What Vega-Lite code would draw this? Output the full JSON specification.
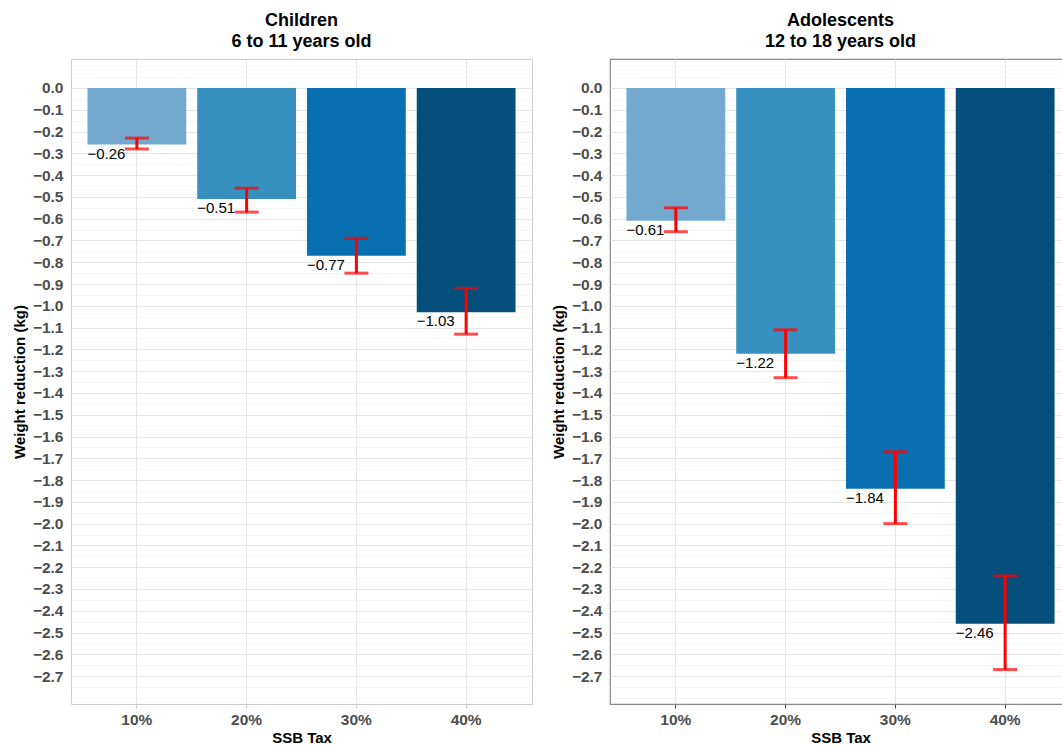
{
  "$schema": "https://vega.github.io/schema/vega-lite/v6.json",
  "padding": {"left": 11, "top": 11, "right": 0, "bottom": 0},
  "background": "white",
  "datasets": {
    "tax": [
      {"group": "Children", "tax": "10%", "value": -0.26, "lo": -0.28, "hi": -0.23},
      {"group": "Children", "tax": "20%", "value": -0.51, "lo": -0.57, "hi": -0.46},
      {"group": "Children", "tax": "30%", "value": -0.77, "lo": -0.85, "hi": -0.69},
      {"group": "Children", "tax": "40%", "value": -1.03, "lo": -1.13, "hi": -0.92},
      {"group": "Adolescents", "tax": "10%", "value": -0.61, "lo": -0.66, "hi": -0.55},
      {"group": "Adolescents", "tax": "20%", "value": -1.22, "lo": -1.33, "hi": -1.11},
      {"group": "Adolescents", "tax": "30%", "value": -1.84, "lo": -2.0, "hi": -1.67},
      {"group": "Adolescents", "tax": "40%", "value": -2.46, "lo": -2.67, "hi": -2.24}
    ]
  },
  "spacing": 17,
  "hconcat": [
    {
      "width": 461,
      "height": 645,
      "title": {"text": ["Children", "6 to 11 years old"]},
      "view": {"stroke": "#CCCCCC", "strokeWidth": 1},
      "data": {"name": "tax"},
      "transform": [{"filter": "datum.group == 'Children'"}],
      "encoding": {
        "x": {
          "field": "tax", "type": "nominal", "sort": ["10%", "20%", "30%", "40%"],
          "scale": {"paddingInner": 0.1, "paddingOuter": 0.15},
          "axis": {"title": "SSB Tax", "labelAngle": 0, "bandPosition": 0.5, "tickColor": "#CCCCCC", "gridColor": "#E5E5E5"}
        }
      },
      "layer": [
        {
          "mark": {"type": "bar"},
          "encoding": {
            "y": {
              "field": "value", "type": "quantitative",
              "scale": {"domain": [-2.828, 0.133], "nice": false, "zero": false},
              "axis": {"title": "Weight reduction (kg)", "tickColor": "#CCCCCC", "values": [0.1,0.05,0,-0.05,-0.1,-0.15,-0.2,-0.25,-0.3,-0.35,-0.4,-0.45,-0.5,-0.55,-0.6,-0.65,-0.7,-0.75,-0.8,-0.85,-0.9,-0.95,-1,-1.05,-1.1,-1.15,-1.2,-1.25,-1.3,-1.35,-1.4,-1.45,-1.5,-1.55,-1.6,-1.65,-1.7,-1.75,-1.8,-1.85,-1.9,-1.95,-2,-2.05,-2.1,-2.15,-2.2,-2.25,-2.3,-2.35,-2.4,-2.45,-2.5,-2.55,-2.6,-2.65,-2.7,-2.75,-2.8]}
            },
            "color": {"field": "tax", "type": "nominal", "legend": null,
              "scale": {"domain": ["10%", "20%", "30%", "40%"], "range": ["#74A9CF", "#3690C0", "#0870B0", "#054F7C"]}}
          }
        },
        {
          "mark": {"type": "text", "align": "left", "baseline": "top", "dy": 2, "fontSize": 15, "color": "black"},
          "encoding": {
            "x": {"field": "tax", "type": "nominal", "sort": ["10%", "20%", "30%", "40%"], "bandPosition": 0},
            "y": {"field": "value", "type": "quantitative", "axis": {"title": "Weight reduction (kg)", "tickColor": "#CCCCCC", "values": [0.1,0.05,0,-0.05,-0.1,-0.15,-0.2,-0.25,-0.3,-0.35,-0.4,-0.45,-0.5,-0.55,-0.6,-0.65,-0.7,-0.75,-0.8,-0.85,-0.9,-0.95,-1,-1.05,-1.1,-1.15,-1.2,-1.25,-1.3,-1.35,-1.4,-1.45,-1.5,-1.55,-1.6,-1.65,-1.7,-1.75,-1.8,-1.85,-1.9,-1.95,-2,-2.05,-2.1,-2.15,-2.2,-2.25,-2.3,-2.35,-2.4,-2.45,-2.5,-2.55,-2.6,-2.65,-2.7,-2.75,-2.8]}},
            "text": {"field": "value", "type": "quantitative", "format": ".2f"}
          }
        },
        {
          "mark": {"type": "rule", "color": "#FF0000", "strokeWidth": 3},
          "encoding": {
            "y": {"field": "lo", "type": "quantitative", "axis": {"title": "Weight reduction (kg)", "tickColor": "#CCCCCC", "values": [0.1,0.05,0,-0.05,-0.1,-0.15,-0.2,-0.25,-0.3,-0.35,-0.4,-0.45,-0.5,-0.55,-0.6,-0.65,-0.7,-0.75,-0.8,-0.85,-0.9,-0.95,-1,-1.05,-1.1,-1.15,-1.2,-1.25,-1.3,-1.35,-1.4,-1.45,-1.5,-1.55,-1.6,-1.65,-1.7,-1.75,-1.8,-1.85,-1.9,-1.95,-2,-2.05,-2.1,-2.15,-2.2,-2.25,-2.3,-2.35,-2.4,-2.45,-2.5,-2.55,-2.6,-2.65,-2.7,-2.75,-2.8]}},
            "y2": {"field": "hi"}
          }
        },
        {
          "mark": {"type": "tick", "color": "#FF0000", "thickness": 3, "size": 24, "orient": "horizontal"},
          "encoding": {"y": {"field": "lo", "type": "quantitative", "axis": {"title": "Weight reduction (kg)", "tickColor": "#CCCCCC", "values": [0.1,0.05,0,-0.05,-0.1,-0.15,-0.2,-0.25,-0.3,-0.35,-0.4,-0.45,-0.5,-0.55,-0.6,-0.65,-0.7,-0.75,-0.8,-0.85,-0.9,-0.95,-1,-1.05,-1.1,-1.15,-1.2,-1.25,-1.3,-1.35,-1.4,-1.45,-1.5,-1.55,-1.6,-1.65,-1.7,-1.75,-1.8,-1.85,-1.9,-1.95,-2,-2.05,-2.1,-2.15,-2.2,-2.25,-2.3,-2.35,-2.4,-2.45,-2.5,-2.55,-2.6,-2.65,-2.7,-2.75,-2.8]}}}
        },
        {
          "mark": {"type": "tick", "color": "#FF0000", "thickness": 3, "size": 24, "orient": "horizontal"},
          "encoding": {"y": {"field": "hi", "type": "quantitative", "axis": {"title": "Weight reduction (kg)", "tickColor": "#CCCCCC", "values": [0.1,0.05,0,-0.05,-0.1,-0.15,-0.2,-0.25,-0.3,-0.35,-0.4,-0.45,-0.5,-0.55,-0.6,-0.65,-0.7,-0.75,-0.8,-0.85,-0.9,-0.95,-1,-1.05,-1.1,-1.15,-1.2,-1.25,-1.3,-1.35,-1.4,-1.45,-1.5,-1.55,-1.6,-1.65,-1.7,-1.75,-1.8,-1.85,-1.9,-1.95,-2,-2.05,-2.1,-2.15,-2.2,-2.25,-2.3,-2.35,-2.4,-2.45,-2.5,-2.55,-2.6,-2.65,-2.7,-2.75,-2.8]}}}
        }
      ]
    },
    {
      "width": 461,
      "height": 645,
      "title": {"text": ["Adolescents", "12 to 18 years old"]},
      "view": {"stroke": "#888888", "strokeWidth": 1.2},
      "data": {"name": "tax"},
      "transform": [{"filter": "datum.group == 'Adolescents'"}],
      "encoding": {
        "x": {
          "field": "tax", "type": "nominal", "sort": ["10%", "20%", "30%", "40%"],
          "scale": {"paddingInner": 0.1, "paddingOuter": 0.15},
          "axis": {"title": "SSB Tax", "labelAngle": 0, "bandPosition": 0.5, "tickColor": "#444444", "gridColor": "#E5E5E5"}
        }
      },
      "layer": [
        {
          "mark": {"type": "bar"},
          "encoding": {
            "y": {
              "field": "value", "type": "quantitative",
              "scale": {"domain": [-2.828, 0.133], "nice": false, "zero": false},
              "axis": {"title": "Weight reduction (kg)", "tickColor": "#444444", "values": [0.1,0.05,0,-0.05,-0.1,-0.15,-0.2,-0.25,-0.3,-0.35,-0.4,-0.45,-0.5,-0.55,-0.6,-0.65,-0.7,-0.75,-0.8,-0.85,-0.9,-0.95,-1,-1.05,-1.1,-1.15,-1.2,-1.25,-1.3,-1.35,-1.4,-1.45,-1.5,-1.55,-1.6,-1.65,-1.7,-1.75,-1.8,-1.85,-1.9,-1.95,-2,-2.05,-2.1,-2.15,-2.2,-2.25,-2.3,-2.35,-2.4,-2.45,-2.5,-2.55,-2.6,-2.65,-2.7,-2.75,-2.8]}
            },
            "color": {"field": "tax", "type": "nominal", "legend": null,
              "scale": {"domain": ["10%", "20%", "30%", "40%"], "range": ["#74A9CF", "#3690C0", "#0870B0", "#054F7C"]}}
          }
        },
        {
          "mark": {"type": "text", "align": "left", "baseline": "top", "dy": 2, "fontSize": 15, "color": "black"},
          "encoding": {
            "x": {"field": "tax", "type": "nominal", "sort": ["10%", "20%", "30%", "40%"], "bandPosition": 0},
            "y": {"field": "value", "type": "quantitative", "axis": {"title": "Weight reduction (kg)", "tickColor": "#444444", "values": [0.1,0.05,0,-0.05,-0.1,-0.15,-0.2,-0.25,-0.3,-0.35,-0.4,-0.45,-0.5,-0.55,-0.6,-0.65,-0.7,-0.75,-0.8,-0.85,-0.9,-0.95,-1,-1.05,-1.1,-1.15,-1.2,-1.25,-1.3,-1.35,-1.4,-1.45,-1.5,-1.55,-1.6,-1.65,-1.7,-1.75,-1.8,-1.85,-1.9,-1.95,-2,-2.05,-2.1,-2.15,-2.2,-2.25,-2.3,-2.35,-2.4,-2.45,-2.5,-2.55,-2.6,-2.65,-2.7,-2.75,-2.8]}},
            "text": {"field": "value", "type": "quantitative", "format": ".2f"}
          }
        },
        {
          "mark": {"type": "rule", "color": "#FF0000", "strokeWidth": 3},
          "encoding": {
            "y": {"field": "lo", "type": "quantitative", "axis": {"title": "Weight reduction (kg)", "tickColor": "#444444", "values": [0.1,0.05,0,-0.05,-0.1,-0.15,-0.2,-0.25,-0.3,-0.35,-0.4,-0.45,-0.5,-0.55,-0.6,-0.65,-0.7,-0.75,-0.8,-0.85,-0.9,-0.95,-1,-1.05,-1.1,-1.15,-1.2,-1.25,-1.3,-1.35,-1.4,-1.45,-1.5,-1.55,-1.6,-1.65,-1.7,-1.75,-1.8,-1.85,-1.9,-1.95,-2,-2.05,-2.1,-2.15,-2.2,-2.25,-2.3,-2.35,-2.4,-2.45,-2.5,-2.55,-2.6,-2.65,-2.7,-2.75,-2.8]}},
            "y2": {"field": "hi"}
          }
        },
        {
          "mark": {"type": "tick", "color": "#FF0000", "thickness": 3, "size": 24, "orient": "horizontal"},
          "encoding": {"y": {"field": "lo", "type": "quantitative", "axis": {"title": "Weight reduction (kg)", "tickColor": "#444444", "values": [0.1,0.05,0,-0.05,-0.1,-0.15,-0.2,-0.25,-0.3,-0.35,-0.4,-0.45,-0.5,-0.55,-0.6,-0.65,-0.7,-0.75,-0.8,-0.85,-0.9,-0.95,-1,-1.05,-1.1,-1.15,-1.2,-1.25,-1.3,-1.35,-1.4,-1.45,-1.5,-1.55,-1.6,-1.65,-1.7,-1.75,-1.8,-1.85,-1.9,-1.95,-2,-2.05,-2.1,-2.15,-2.2,-2.25,-2.3,-2.35,-2.4,-2.45,-2.5,-2.55,-2.6,-2.65,-2.7,-2.75,-2.8]}}}
        },
        {
          "mark": {"type": "tick", "color": "#FF0000", "thickness": 3, "size": 24, "orient": "horizontal"},
          "encoding": {"y": {"field": "hi", "type": "quantitative", "axis": {"title": "Weight reduction (kg)", "tickColor": "#444444", "values": [0.1,0.05,0,-0.05,-0.1,-0.15,-0.2,-0.25,-0.3,-0.35,-0.4,-0.45,-0.5,-0.55,-0.6,-0.65,-0.7,-0.75,-0.8,-0.85,-0.9,-0.95,-1,-1.05,-1.1,-1.15,-1.2,-1.25,-1.3,-1.35,-1.4,-1.45,-1.5,-1.55,-1.6,-1.65,-1.7,-1.75,-1.8,-1.85,-1.9,-1.95,-2,-2.05,-2.1,-2.15,-2.2,-2.25,-2.3,-2.35,-2.4,-2.45,-2.5,-2.55,-2.6,-2.65,-2.7,-2.75,-2.8]}}}
        }
      ]
    }
  ],
  "config": {
    "font": "Liberation Sans",
    "title": {"fontSize": 18, "fontWeight": "bold", "color": "black", "anchor": "middle", "lineHeight": 21, "offset": 8},
    "axis": {
      "domain": false,
      "labelFont": "Liberation Sans",
      "labelFontSize": 15.5,
      "labelFontWeight": "bold",
      "labelColor": "#4D4D4D",
      "labelPadding": 4,
      "labelOverlap": false,
      "tickSize": 4,
      "tickWidth": 1.1,
      "titleFontSize": 15,
      "titleFontWeight": "bold",
      "titleColor": "black",
      "titlePadding": 5,
      "grid": true,
      "gridColor": "#E5E5E5",
      "gridWidth": 1
    },
    "axisY": {
      "labelExpr": "(round(datum.value*20) % 2 == 0 && datum.value < 0.01 && datum.value > -2.71) ? format(datum.value, '.1f') : ''",
      "tickOpacity": {"condition": {"test": "round(datum.value*20) % 2 == 0 && datum.value < 0.01 && datum.value > -2.71", "value": 1}, "value": 0},
      "gridWidth": {"condition": {"test": "round(datum.value*20) % 2 == 0 && datum.value < 0.01 && datum.value > -2.71", "value": 1.1}, "value": 0.6},
      "gridColor": {"condition": {"test": "round(datum.value*20) % 2 == 0 && datum.value < 0.01 && datum.value > -2.71", "value": "#E6E6E6"}, "value": "#EEEEEE"}
    },
    "axisX": {"titlePadding": 3}
  }
}
